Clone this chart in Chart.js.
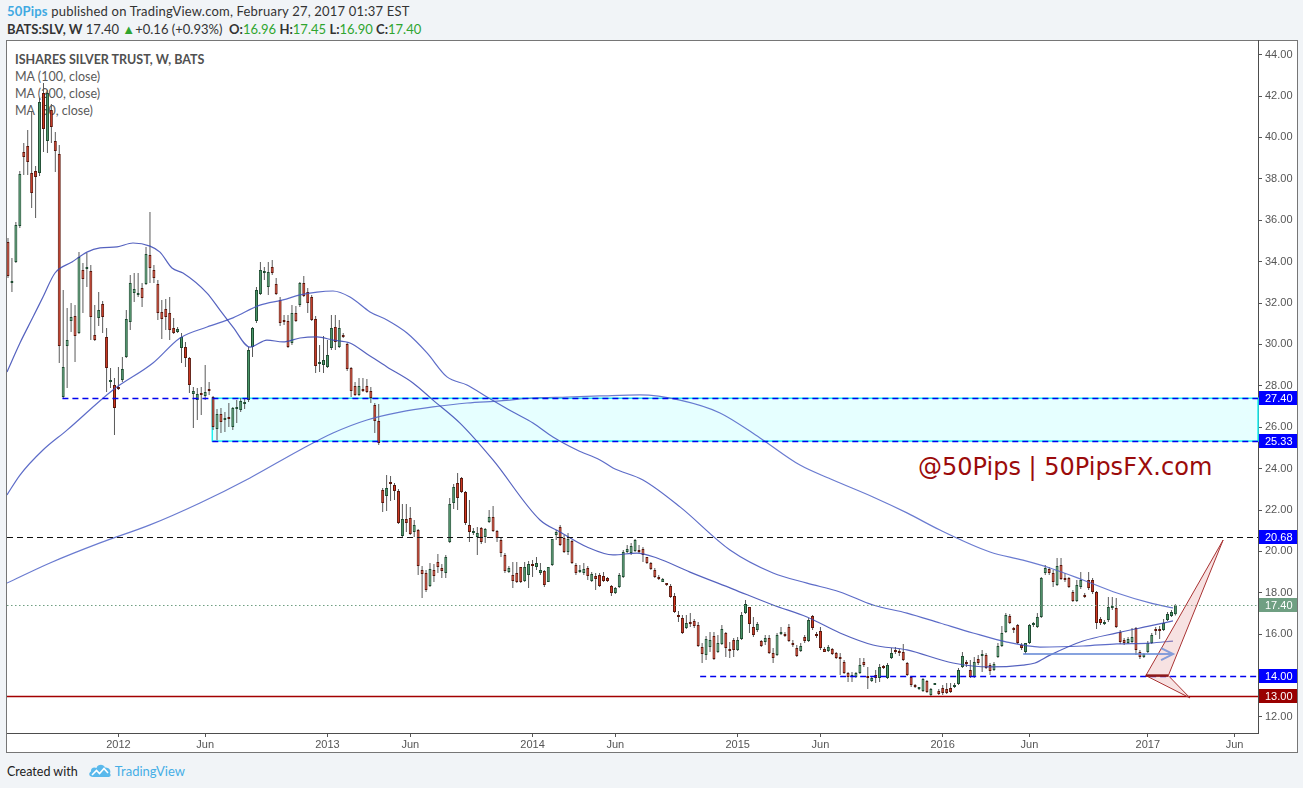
<!DOCTYPE html>
<html><head><meta charset="utf-8">
<script src="https://cdn.jsdelivr.net/npm/chart.js@4.4.1/dist/chart.umd.min.js"></script>
<style>
html,body{margin:0;padding:0;width:1303px;height:788px;overflow:hidden;background:#f1f4f7;font-family:Lato,"Open Sans",sans-serif;}
#panel{position:absolute;left:6px;top:40px;width:1292px;height:713px;box-sizing:border-box;border:1px solid #767676;background:#fff;}
#legend{position:absolute;left:15px;top:51px;color:#5a5a5a;font-size:12.5px;line-height:17px;white-space:nowrap;}
#legend b{color:#505050;font-size:12.5px}
.h{position:absolute;left:7px;color:#333;white-space:nowrap;line-height:16px;font-size:13px;}
#h1{top:3px;letter-spacing:0.2px}#h2{top:21px}
.g{color:#2fa52f}
.blue{color:#3fa9e2;font-weight:bold}
#wm{position:absolute;left:918px;top:453px;font-family:"DejaVu Sans",Verdana,sans-serif;font-size:24px;line-height:28px;color:#9b0b0b;white-space:nowrap;}
#foot{position:absolute;left:7px;top:763px;font-size:12.5px;color:#222;line-height:16px;white-space:nowrap;}
#foot .tv{color:#45aee6;font-size:13px}
#logo{position:absolute;left:88px;top:762px}
canvas{position:absolute;left:0;top:0}
</style></head>
<body>
<div id="h1" class="h"><span class="blue">50Pips</span> published on TradingView.com, February 27, 2017 01:37 EST</div>
<div id="h2" class="h"><b>BATS:SLV, W</b> 17.40 <span class="g">▲</span>+0.16 (+0.93%) &nbsp;<b>O:</b><span class="g">16.96</span> <b>H:</b><span class="g">17.45</span> <b>L:</b><span class="g">16.90</span> <b>C:</b><span class="g">17.40</span></div>
<div id="panel"></div>
<div id="legend"><b>ISHARES SILVER TRUST, W, BATS</b><br>MA (100, close)<br>MA (200, close)<br>MA (50, close)</div>
<div id="wm">@50Pips | 50PipsFX.com</div>
<div id="foot">Created with <span style="display:inline-block;width:34px"></span><span class="tv">TradingView</span></div>
<svg id="logo" width="24" height="16" viewBox="0 0 24 16"><path d="M5 15 C1 15 0 11 3 9.5 C2.5 6 6 4.5 8.5 6 C9.5 2 15.5 1.5 17 5.5 C20.5 5 23.5 8 22 11.5 C23.5 14 22 15 20 15 Z" fill="#5ab9ec"/><polyline points="4,13 8.5,8.5 11.5,11.5 16,6.5 20,11" fill="none" stroke="#fff" stroke-width="1.6"/></svg>
<canvas id="c" width="1303" height="788"></canvas>
<script>
// ---- weekly OHLC (index 0 = week of 2011-06-20) ----
const opens = [
34.95,32.97,33.98,35.72,39.29,39.58,38.28,38.38,38.28,42.15,
39.83,41.32,39.83,39.20,27.46,29.92,31.13,31.37,30.55,33.59,
33.64,33.55,30.45,31.28,31.95,30.36,28.18,28.04,27.94,28.28,
29.39,31.08,32.48,32.39,32.72,32.92,34.32,33.59,32.92,31.57,
31.71,31.52,30.79,30.60,29.83,29.87,29.34,27.60,27.31,27.65,
27.51,27.80,27.46,25.91,26.64,26.35,26.49,26.01,26.88,26.83,
27.12,27.31,29.87,31.13,32.43,33.45,32.77,33.74,32.92,32.15,
31.13,31.13,30.07,31.52,31.90,32.97,32.53,32.29,31.23,29.05,
29.00,28.91,29.83,30.84,29.87,30.45,30.02,28.86,27.99,27.56,
27.85,27.99,27.75,27.07,26.30,22.97,22.68,23.35,23.21,22.92,
20.74,21.57,21.61,20.94,21.03,19.10,18.96,18.33,19.10,19.49,
19.20,18.96,20.45,22.34,23.30,23.55,22.87,21.28,20.89,20.70,
21.13,20.70,21.42,21.66,20.99,20.55,19.83,19.00,18.86,18.96,
19.25,18.57,18.86,19.39,19.25,18.96,19.05,18.52,19.34,20.79,
21.18,20.65,19.97,20.50,19.34,19.00,18.96,19.20,18.57,18.81,
18.86,18.81,18.71,18.33,17.99,18.28,18.76,19.97,19.92,20.02,
20.02,20.12,19.73,19.44,19.10,18.71,18.52,18.43,18.33,17.85,
16.88,16.78,16.30,16.59,16.64,16.44,15.38,14.99,15.38,15.91,
15.14,15.53,16.06,15.28,15.72,15.24,15.77,17.02,17.31,16.35,
16.20,15.67,15.62,15.82,15.09,14.99,16.01,16.01,16.35,15.57,
15.33,15.19,15.86,15.67,16.88,15.96,16.15,15.28,15.19,15.28,
15.09,14.85,14.66,14.13,13.93,13.93,14.13,14.66,13.98,13.74,
14.03,13.88,14.46,13.88,14.85,15.19,15.19,15.14,14.61,13.93,
13.55,13.35,13.26,13.74,13.06,13.55,13.26,13.40,13.35,13.40,
13.45,13.59,14.42,14.61,14.27,13.93,14.80,14.95,14.99,14.51,
14.27,14.90,15.43,16.11,16.88,16.25,16.44,15.48,15.14,15.57,
16.44,16.35,16.83,18.96,19.15,18.96,18.38,19.34,18.71,18.71,
18.04,17.60,18.28,17.89,18.62,18.62,18.04,16.73,16.49,16.69,
17.27,17.27,16.11,15.72,15.57,15.62,16.30,15.14,14.90,15.14,
15.57,16.20,16.20,16.20,16.69,16.88,16.96];
const highs = [
35.14,34.17,35.91,38.38,39.73,40.36,41.23,38.62,41.90,42.63,
42.29,41.61,40.26,39.63,32.63,31.76,32.00,31.90,34.46,33.93,
34.42,33.84,31.90,32.53,32.10,30.79,28.86,28.38,28.91,29.39,
31.66,33.35,33.45,33.45,32.97,34.71,36.40,33.84,33.11,32.15,
32.19,32.29,31.28,30.84,30.55,30.12,29.39,27.94,27.89,27.94,
29.00,28.18,27.51,26.88,26.93,26.73,27.17,26.98,27.31,27.41,
27.36,29.87,30.84,32.77,33.98,33.74,33.98,34.08,33.21,32.29,
31.42,31.42,31.90,31.85,33.01,33.30,32.72,32.39,31.37,29.97,
30.41,30.21,31.42,31.42,31.18,30.55,30.07,28.91,28.18,28.38,
28.38,28.33,27.94,27.17,27.12,23.06,23.69,23.64,23.30,23.01,
22.29,22.29,22.15,21.52,21.08,19.29,19.10,19.44,19.39,19.87,
19.39,19.83,22.58,23.26,23.79,23.59,22.92,22.48,21.13,21.18,
21.18,21.13,22.00,22.19,21.03,20.65,19.92,19.29,19.49,19.49,
19.25,19.49,19.54,19.58,19.73,19.44,19.10,19.25,20.60,21.03,
21.28,20.79,20.89,20.55,19.44,19.34,19.44,19.29,19.00,18.96,
18.96,19.00,18.76,18.38,18.28,18.96,20.07,20.31,20.41,20.60,
20.31,20.21,19.73,19.49,19.20,18.86,18.71,18.47,18.43,17.99,
17.12,16.93,16.93,17.02,16.73,16.59,15.57,15.91,16.11,16.11,
15.96,16.44,16.11,15.62,15.82,15.86,17.07,17.65,17.31,16.83,
16.59,15.72,15.96,15.96,15.33,16.06,16.35,16.11,16.49,15.72,
15.48,15.57,15.96,16.78,16.93,16.11,16.35,15.38,15.48,15.33,
15.14,15.09,14.75,14.17,14.17,14.17,14.85,14.85,14.42,13.93,
14.27,14.56,14.51,14.61,15.33,15.38,15.28,15.53,14.66,13.98,
13.59,13.45,13.88,13.79,13.40,13.64,13.35,13.55,13.64,13.64,
13.64,14.37,15.14,14.75,14.75,14.90,14.99,15.24,15.09,14.61,
14.66,15.57,16.40,17.02,16.98,16.35,16.49,15.57,15.57,16.49,
16.59,17.02,18.76,19.34,19.25,19.10,19.68,19.68,18.96,18.76,
18.14,18.62,19.00,17.99,19.00,18.71,18.09,16.83,16.69,17.80,
17.80,17.75,16.20,15.82,15.86,16.30,16.35,15.24,15.09,15.67,
16.06,16.35,16.40,16.73,17.07,17.17,17.45];
const lows = [
33.21,32.53,33.93,35.62,38.18,38.18,36.59,36.11,38.14,39.29,
39.25,39.73,38.33,29.10,27.41,27.89,30.60,29.15,30.50,31.52,
32.77,30.21,30.16,30.89,30.55,27.70,27.89,25.62,27.80,28.18,
29.34,30.70,32.05,32.29,31.81,32.87,32.97,32.97,31.18,30.26,
30.70,30.21,30.50,30.55,29.10,28.91,27.65,25.96,26.35,26.59,
27.31,27.56,25.86,25.38,25.72,25.77,26.01,25.86,26.20,26.73,
26.88,27.22,29.39,31.03,32.39,33.11,32.39,33.35,32.39,30.89,
30.94,29.83,29.97,31.08,31.81,32.29,31.52,31.13,28.62,28.67,
28.62,28.86,29.73,29.73,29.83,30.31,28.72,27.46,27.51,27.51,
27.70,27.65,27.17,25.72,25.14,21.90,21.95,22.43,22.48,21.32,
20.70,20.94,20.79,20.70,18.86,17.75,18.04,18.28,18.52,18.96,
18.71,18.71,20.41,22.05,22.00,22.82,21.28,20.45,20.79,19.83,
20.36,20.41,21.37,20.94,20.45,19.73,18.96,18.96,18.23,18.47,
18.47,18.52,18.23,18.76,19.10,18.86,18.28,18.52,19.29,20.55,
20.26,19.92,19.83,19.39,18.86,18.96,18.86,18.62,18.52,18.14,
18.28,18.52,18.52,17.85,17.94,18.23,18.71,19.92,19.83,19.97,
19.92,19.49,19.39,19.10,18.71,18.62,18.52,18.33,17.75,17.02,
16.59,16.01,16.25,16.35,16.30,15.38,14.61,14.75,15.14,14.75,
15.09,15.48,14.90,14.85,14.90,15.19,15.72,16.98,16.06,15.86,
16.11,15.38,15.48,15.04,14.61,14.95,15.96,15.86,15.62,15.38,
14.90,15.14,15.57,15.62,16.20,15.82,15.24,15.14,15.14,14.99,
14.80,14.03,14.08,13.69,13.69,13.88,14.08,14.42,13.35,13.69,
13.64,13.69,14.32,13.84,14.80,15.04,14.95,14.70,13.98,13.45,
13.40,13.30,13.21,13.16,13.01,13.55,13.06,13.06,13.11,13.16,
13.40,13.55,14.37,14.42,13.88,13.88,14.51,14.17,14.32,14.03,
14.22,14.85,15.38,16.06,16.49,16.06,15.53,15.24,15.04,15.53,
16.35,16.30,16.78,18.86,18.86,18.28,18.33,18.62,18.52,18.23,
17.56,17.56,18.18,17.75,18.14,17.94,16.25,16.44,16.44,16.59,
17.17,16.30,15.53,15.48,15.53,15.57,14.99,14.80,14.85,15.09,
15.53,15.96,15.77,16.15,16.64,16.83,16.90];
const closes = [
33.30,33.01,35.77,38.23,39.05,38.81,37.31,38.09,41.71,40.41,
42.15,40.50,39.34,29.92,28.91,30.21,31.32,30.41,34.22,33.16,
33.74,31.32,30.21,31.66,31.32,28.86,28.28,26.93,27.85,28.81,
31.23,32.97,32.68,32.48,32.24,34.37,33.69,33.21,31.52,31.23,
31.32,30.70,30.55,30.74,30.36,29.34,28.04,27.75,27.60,27.56,
27.70,27.75,26.01,26.64,26.25,26.40,26.40,26.93,26.93,27.27,
27.22,29.73,30.79,32.63,33.59,33.50,33.50,33.45,32.43,31.03,
31.08,29.87,31.52,31.13,32.97,32.34,32.00,31.18,28.96,29.10,
29.25,29.49,30.79,30.12,30.79,30.36,28.81,27.75,27.56,27.99,
27.75,27.70,27.41,26.30,25.24,22.34,23.06,23.26,22.92,21.37,
21.57,21.37,20.84,21.28,19.29,18.91,18.14,19.15,18.81,19.25,
19.05,19.73,22.29,23.11,22.58,22.87,21.37,20.94,20.94,20.89,
20.45,21.08,21.66,20.99,20.65,19.92,19.05,19.20,18.57,18.52,
18.52,19.25,19.39,19.29,19.44,19.10,18.38,19.25,20.60,20.94,
20.31,19.97,20.60,19.44,18.96,19.10,19.15,18.81,18.91,18.67,
18.33,18.57,18.57,17.99,18.23,18.86,19.97,20.12,20.26,20.55,
19.97,19.83,19.44,19.15,18.76,18.67,18.67,18.38,17.80,17.07,
16.83,16.06,16.54,16.49,16.40,15.43,15.04,15.77,15.72,14.80,
15.57,16.25,15.33,15.19,15.24,15.72,16.93,17.46,16.49,15.96,
16.49,15.43,15.82,15.09,14.85,15.96,16.11,15.91,15.67,15.48,
14.95,15.43,15.67,16.69,16.30,15.91,15.33,15.14,15.38,15.04,
14.85,14.80,14.13,13.93,14.03,14.13,14.51,14.51,13.88,13.88,
13.88,14.42,14.37,14.51,15.09,15.14,15.09,14.75,14.03,13.55,
13.45,13.40,13.84,13.21,13.35,13.64,13.11,13.16,13.16,13.21,
13.55,14.27,14.95,14.56,13.93,14.66,14.61,14.99,14.37,14.22,
14.56,15.43,16.06,16.93,16.54,16.20,15.57,15.33,15.57,16.44,
16.54,16.83,18.71,19.20,18.96,18.52,19.29,18.67,18.62,18.28,
17.60,18.38,18.62,17.80,18.23,18.04,16.54,16.54,16.59,17.31,
17.36,16.35,15.62,15.57,15.77,15.86,15.24,14.90,15.04,15.57,
15.96,16.15,16.15,16.54,16.98,17.07,17.40];

// ---- moving averages (bar index, value) ----
const ma50Idx = [-0.25,3.04,6.34,8.87,11.92,16.23,20.03,23.33,27.64,31.69,36.0,38.54,41.58,44.37,50.46,53.75,57.05,61.36,65.67,69.73,74.04,78.35,82.40,86.71,91.02,96.10,102.69,107.76,114.60,122.97,134.89,139.96,146.81,153.40,159.48,164.55,172.92,183.82,193.97,202.59,210.95,219.32,227.94,239.60,248.99,257.35,260.40,264.20,272.57,281.19,289.55,295.38];
const ma50Val = [28.67,30.07,31.32,32.29,33.45,33.98,34.46,34.66,34.71,34.90,34.75,34.46,33.69,33.45,32.48,31.66,30.84,29.87,30.21,30.12,30.31,30.36,30.21,30.07,29.54,28.91,28.14,27.31,26.20,24.42,21.52,20.94,20.21,19.83,19.92,19.68,19.00,18.18,17.41,16.83,16.06,15.48,15.24,14.61,14.42,14.51,14.61,14.99,15.67,16.06,16.40,16.64];
const ma100Idx = [-0.25,3.04,8.87,14.96,26.62,36.76,43.61,50.46,57.05,63.89,69.73,74.04,78.35,82.40,86.71,91.79,96.10,101.17,106.24,111.31,116.38,121.45,128.04,133.11,138.18,144.27,150.10,153.40,161.0,170.39,183.06,193.97,202.59,210.95,219.32,227.94,236.31,244.68,253.30,261.66,272.57,281.19,289.55,295.38];
const ma100Val = [22.73,23.69,24.90,25.86,27.80,29.10,30.31,30.84,31.28,31.90,32.15,32.39,32.53,32.58,32.29,31.57,31.18,30.55,29.59,28.43,28.04,27.46,26.73,26.20,25.53,24.90,24.42,24.03,23.45,22.15,20.07,18.96,18.47,18.04,17.41,17.02,16.54,16.06,15.62,15.38,15.43,15.53,15.57,15.67];
const ma200Idx = [-0.25,10.65,23.33,36.0,48.68,61.36,74.04,82.40,91.02,99.39,107.76,116.38,124.75,133.11,141.73,150.10,160.24,170.39,180.53,190.67,200.81,209.18,219.32,227.94,236.31,248.99,257.35,264.20,272.57,281.19,289.55,295.38];
const ma200Val = [18.47,19.44,20.41,21.28,22.34,23.55,24.90,25.72,26.35,26.73,26.98,27.17,27.27,27.41,27.46,27.51,27.56,27.31,26.69,25.48,24.17,23.45,22.63,21.86,21.03,19.97,19.58,19.20,18.62,17.99,17.51,17.27];

// ---- axes ----
const xTickIdx = [28,50,81,102,133,154,185,206,237,259,289,311];
const xTickLabels = ['2012','Jun','2013','Jun','2014','Jun','2015','Jun','2016','Jun','2017','Jun'];
const yTickValues = [12,14,16,18,20,22,24,26,28,30,32,34,36,38,40,42,44];

// ---- drawings ----
const levelValues = [27.40, 25.33, 20.68, 17.40, 14.00, 13.00];
const levelStartIdx = [13.8, 51.8, -0.25, -0.25, 175.5, -0.25];
const levelLabels = ['27.40','25.33','20.68','17.40','14.00','13.00'];
const zoneTop = 27.40, zoneBottom = 25.33, zoneStartIdx = 51.8;
const projIdx = [288.5, 308.1, 294.2, 299.7];
const projVal = [14.00, 20.55, 14.00, 12.92];
const arrowIdx = [257.4, 295.4];
const arrowVal = 15.04;

const idx = opens.map((_, i) => i);
const up = idx.map(i => closes[i] >= opens[i]);
const bodyData = idx.map(i => ({x: i, y: [Math.min(opens[i], closes[i]), Math.max(opens[i], closes[i])]}));
const wickData = idx.map(i => ({x: i, y: [lows[i], highs[i]]}));

const levelStyle = [
  {c:'#0000ee', w:1.5, d:[6,4]},
  {c:'#0000ee', w:1.5, d:[6,4]},
  {c:'#111111', w:1, d:[6,4]},
  {c:'#6f9f82', w:1, d:[1.5,2.5]},
  {c:'#0000ee', w:1.5, d:[6,4]},
  {c:'#a30000', w:1.5, d:[]}
];
const tagColors = ['#0000ff','#0000ff','#0000ff','#6f9f82','#0000ff','#990000'];

const annot = {
  id: 'annot',
  beforeDatasetsDraw(chart) {
    const {ctx, chartArea: a, scales: {x, y}} = chart;
    ctx.save();
    const bx = x.getPixelForValue(zoneStartIdx);
    const t = y.getPixelForValue(zoneTop), b = y.getPixelForValue(zoneBottom);
    ctx.fillStyle = '#e6ffff';
    ctx.fillRect(bx, t, a.right - bx, b - t);
    ctx.strokeStyle = '#1ef2f2';
    ctx.lineWidth = 1.5;
    ctx.strokeRect(bx, t, a.right - bx, b - t);
    ctx.restore();
  },
  afterDatasetsDraw(chart) {
    const {ctx, chartArea: a, scales: {x, y}} = chart;
    ctx.save();
    levelValues.forEach((v, k) => {
      const st = levelStyle[k];
      const py = Math.round(y.getPixelForValue(v)) + 0.5;
      const x0 = Math.max(a.left, x.getPixelForValue(levelStartIdx[k]));
      ctx.beginPath();
      ctx.setLineDash(st.d);
      ctx.strokeStyle = st.c; ctx.lineWidth = st.w;
      ctx.moveTo(x0, py); ctx.lineTo(a.right, py);
      ctx.stroke();
    });
    ctx.setLineDash([]);
    const P = projIdx.map((v, k) => [x.getPixelForValue(v), y.getPixelForValue(projVal[k])]);
    ctx.fillStyle = 'rgba(226,150,150,0.28)';
    ctx.strokeStyle = '#a83232';
    ctx.lineWidth = 1;
    [[0,1,2],[0,3,2]].forEach(tri => {
      ctx.beginPath();
      ctx.moveTo(P[tri[0]][0], P[tri[0]][1]);
      ctx.lineTo(P[tri[1]][0], P[tri[1]][1]);
      ctx.lineTo(P[tri[2]][0], P[tri[2]][1]);
      ctx.closePath();
      ctx.fill(); ctx.stroke();
    });
    ctx.beginPath();
    ctx.lineWidth = 2.5; ctx.strokeStyle = '#8e1a1a';
    ctx.moveTo(P[0][0], P[0][1]); ctx.lineTo(P[2][0], P[2][1]);
    ctx.stroke();
    const ax1 = x.getPixelForValue(arrowIdx[0]), ax2 = x.getPixelForValue(arrowIdx[1]);
    const ay = y.getPixelForValue(arrowVal);
    ctx.strokeStyle = 'rgba(105,140,215,0.8)';
    ctx.lineWidth = 2;
    ctx.beginPath();
    ctx.moveTo(ax1, ay); ctx.lineTo(ax2, ay);
    ctx.moveTo(ax2 - 12, ay - 6); ctx.lineTo(ax2, ay); ctx.lineTo(ax2 - 12, ay + 6);
    ctx.stroke();
    ctx.restore();
  },
  afterDraw(chart) {
    const {ctx, chartArea: a, scales: {y}} = chart;
    ctx.save();
    ctx.font = '11px "Liberation Sans", Arial, sans-serif';
    ctx.textBaseline = 'middle';
    levelValues.forEach((v, k) => {
      const py = Math.round(y.getPixelForValue(v));
      ctx.fillStyle = tagColors[k];
      ctx.fillRect(a.right + 1, py - 7, 38, 14);
      ctx.fillStyle = '#ffffff';
      ctx.fillText(levelLabels[k], a.right + 7, py + 0.5);
    });
    ctx.restore();
  }
};

Chart.defaults.font.family = '"Liberation Sans", Arial, sans-serif';

new Chart(document.getElementById('c'), {
  type: 'bar',
  data: {
    datasets: [
      {type:'line', label:'MA (50, close)', data: ma50Idx.map((v,k)=>({x:v, y:ma50Val[k]})), borderColor:'rgba(55,70,180,0.85)', borderWidth:1.2, pointRadius:0, cubicInterpolationMode:'monotone', order:0},
      {type:'line', label:'MA (100, close)', data: ma100Idx.map((v,k)=>({x:v, y:ma100Val[k]})), borderColor:'rgba(65,82,190,0.85)', borderWidth:1.2, pointRadius:0, cubicInterpolationMode:'monotone', order:0},
      {type:'line', label:'MA (200, close)', data: ma200Idx.map((v,k)=>({x:v, y:ma200Val[k]})), borderColor:'rgba(80,100,200,0.85)', borderWidth:1.2, pointRadius:0, cubicInterpolationMode:'monotone', order:0},
      {type:'bar', label:'body', data: bodyData, backgroundColor: up.map(u => u ? '#4a996a' : '#d3351e'), borderColor: up.map(u => u ? '#1c4a2f' : '#5a150a'), borderWidth:1, borderSkipped:false, barThickness:3, grouped:false, minBarLength:2, inflateAmount:0, order:1},
      {type:'bar', label:'wick', data: wickData, backgroundColor:'#5a5a5a', borderWidth:0, barThickness:1, grouped:false, inflateAmount:0, order:2}
    ]
  },
  options: {
    responsive:false, animation:false, events:[],
    layout:{padding:{left:7, top:40, right:6, bottom:36}},
    plugins:{legend:{display:false}, tooltip:{enabled:false}},
    scales:{
      x:{
        type:'linear', min:-0.25, max:316.94, offset:false,
        grid:{display:true, drawOnChartArea:false, drawTicks:true, tickLength:4, color:'#555', offset:false},
        border:{display:true, color:'#4d4d4d', width:1},
        ticks:{autoSkip:false, maxRotation:0, color:'#555', font:{size:11}, padding:1,
          callback:(v)=>{const k = xTickIdx.indexOf(v); return k >= 0 ? xTickLabels[k] : '';}},
        afterBuildTicks:(s)=>{ s.ticks = xTickIdx.map(v => ({value:v})); },
        afterFit:(s)=>{ s.height = 19; }
      },
      y:{
        type:'linear', position:'right', min:11.227, max:44.706, beginAtZero:false,
        grid:{display:true, drawOnChartArea:false, drawTicks:true, tickLength:4, color:'#555'},
        border:{display:true, color:'#4d4d4d', width:1},
        ticks:{color:'#555', font:{size:11}, padding:3, callback:(v)=>Number(v).toFixed(2)},
        afterBuildTicks:(s)=>{ s.ticks = yTickValues.map(v => ({value:v})); },
        afterFit:(s)=>{ s.width = 39; }
      }
    }
  },
  plugins:[annot]
});
</script>
</body></html>
